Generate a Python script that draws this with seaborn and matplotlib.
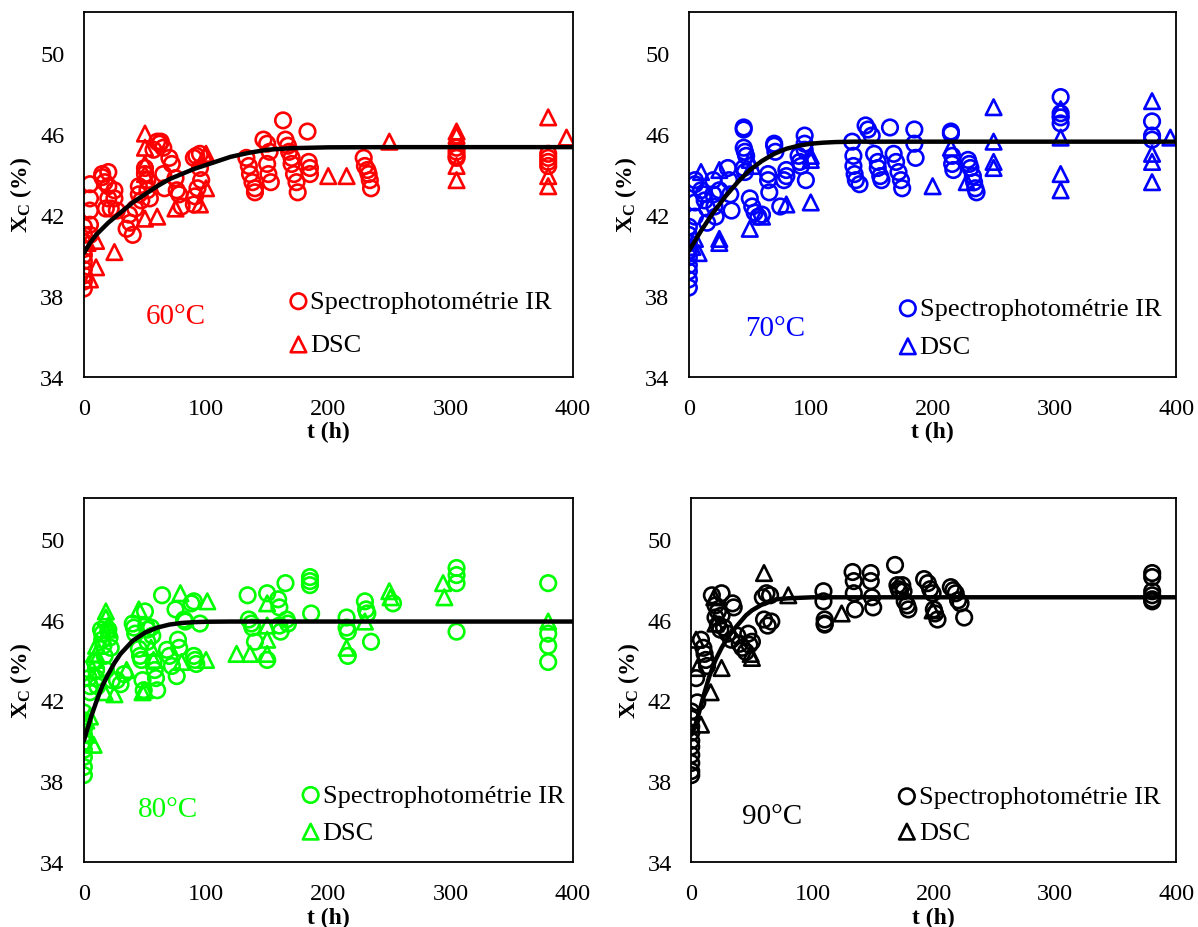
import matplotlib
matplotlib.use("Agg")
import matplotlib.pyplot as plt
import seaborn as sns

# ---- 60 °C ----
t_ir_60 = [0, 0, 0, 0, 0, 0, 0, 0, 0, 0, 5, 5, 5, 5, 5,
           15, 15, 17, 18, 20, 20, 20, 22, 25, 25, 27,
           35, 37, 38, 40, 42, 45, 45, 47, 50, 50, 52, 52, 54,
           57, 60, 62, 63, 65, 65, 66, 70, 72, 75, 76, 78, 80,
           90, 92, 95, 95, 96, 93, 91, 90,
           133, 135, 136, 138, 140, 140,
           147, 150, 152, 150, 151, 153,
           163, 165, 167, 168, 170, 170, 172, 174, 175,
           183, 184, 185, 185,
           229, 230, 232, 233, 234, 235,
           305, 305, 305, 305, 380, 380, 380, 380]
x_ir_60 = [41.4, 41.0, 40.65, 40.3, 40.0, 39.7, 39.3, 39.0, 38.7, 38.35, 43.5, 42.8, 42.2, 41.5, 41.0,
           44.0, 43.85, 43.6, 42.3, 44.1, 43.4, 42.8, 42.3, 43.2, 42.8, 42.2,
           41.3, 42.0, 41.6, 41.0, 42.3, 43.4, 43.0, 42.7, 44.3, 44.0, 43.7, 43.2, 42.8,
           45.2, 45.6, 45.5, 45.6, 45.3, 44.0, 43.3, 44.8, 44.5, 43.8, 43.2, 43.0, 42.4,
           44.8, 44.9, 45.0, 44.3, 43.7, 43.3, 42.9, 42.5,
           44.8, 44.4, 44.0, 43.6, 43.3, 43.1,
           45.7, 45.5, 45.1, 44.5, 44.0, 43.6,
           46.65, 45.7, 45.4, 45.1, 44.8, 44.5, 44.0, 43.6, 43.1,
           46.1, 44.6, 44.3, 44.0,
           44.8, 44.4, 44.2, 44.0, 43.7, 43.3,
           45.3, 45.1, 44.9, 44.8, 45.0, 44.8, 44.6, 44.4]
t_dsc_60 = [3, 5, 10, 10, 25, 50, 50, 50, 50, 50, 60, 75, 95, 99, 100, 100,
            200, 215, 250, 305, 305, 305, 305, 380, 380, 380, 395]
x_dsc_60 = [40.6, 38.8, 39.4, 40.7, 40.15, 46.0, 45.3, 44.5, 44.0, 41.8, 41.9, 42.3, 42.5, 44.9, 45.0, 43.3,
            43.9, 43.9, 45.6, 46.1, 45.9, 44.4, 43.7, 46.8, 43.9, 43.4, 45.8]
t_fit_60 = [0, 5, 10, 20, 30, 40, 50, 60, 70, 80, 90, 100, 110, 120, 135, 150, 170, 200, 250, 300, 400]
x_fit_60 = [40.1, 40.6, 41.0, 41.6, 42.1, 42.6, 43.0, 43.4, 43.75, 44.0, 44.25, 44.45, 44.65, 44.85,
            45.05, 45.2, 45.28, 45.32, 45.33, 45.33, 45.33]

# ---- 70 °C ----
t_ir_70 = [0, 0, 0, 0, 0, 0, 0, 0, 0, 5, 5, 5, 5,
           10, 12, 13, 15, 15, 20, 20, 21, 22, 25,
           32, 33, 34, 35, 45, 45, 45, 46, 47, 45, 46,
           50, 52, 54, 57, 60, 65, 65, 66, 70, 70, 71,
           75, 78, 80, 80, 90, 91, 92, 95, 95, 95, 96,
           134, 135, 135, 136, 137,
           145, 147, 150, 152, 155, 155, 157, 158, 140,
           165, 168, 170, 172, 174, 175, 185, 185, 186,
           215, 215, 216, 216, 217,
           229, 230, 231, 233, 234, 235, 236,
           305, 305, 305, 305, 380, 380, 380]
x_ir_70 = [41.4, 41.0, 40.6, 40.2, 39.9, 39.5, 39.2, 38.8, 38.4, 43.7, 43.5, 42.6, 41.9,
           43.2, 43.0, 42.7, 42.3, 41.6, 43.7, 43.0, 42.4, 41.9, 43.2,
           44.3, 43.7, 43.0, 42.2, 46.3, 46.2, 45.3, 45.1, 44.9, 44.3, 44.1,
           42.8, 42.4, 42.1, 41.9, 42.0, 44.0, 43.7, 43.1, 45.5, 45.4, 45.1,
           42.4, 43.7, 44.2, 43.9, 44.9, 44.6, 44.4, 45.9, 45.5, 45.2, 43.7,
           45.6, 44.9, 44.4, 44.0, 43.7,
           46.4, 46.2, 45.9, 45.0, 44.6, 44.3, 43.9, 43.7, 43.5,
           46.3, 45.0, 44.6, 44.1, 43.7, 43.3, 46.2, 45.5, 44.8,
           46.1, 46.0, 44.9, 44.5, 44.2,
           44.7, 44.5, 44.3, 43.9, 43.6, 43.3, 43.1,
           47.8, 47.0, 46.8, 46.5, 46.6, 45.9, 45.7]
t_dsc_70 = [3, 5, 8, 10, 25, 25, 25, 50, 50, 52, 60, 80, 100, 100, 100,
            200, 215, 228, 250, 250, 250, 250, 305, 305, 305, 305, 380, 380, 380, 380, 395]
x_dsc_70 = [40.4, 40.8, 40.1, 44.1, 40.8, 40.6, 44.2, 41.3, 44.7, 44.4, 41.9, 42.5, 42.6, 44.9, 44.7,
            43.4, 45.3, 43.6, 47.3, 45.6, 44.6, 44.3, 47.2, 45.8, 44.0, 43.2, 47.6, 45.0, 44.6, 43.6, 45.8]
t_fit_70 = [0, 5, 10, 20, 30, 40, 50, 60, 70, 80, 90, 100, 110, 120, 135, 150, 175, 200, 250, 300, 400]
x_fit_70 = [40.2, 40.7, 41.2, 42.1, 42.9, 43.6, 44.2, 44.65, 45.0, 45.25, 45.4, 45.5, 45.55, 45.58,
            45.6, 45.6, 45.6, 45.6, 45.6, 45.6, 45.6]

# ---- 80 °C ----
t_ir_80 = [0, 0, 0, 0, 0, 0, 0, 0, 0, 3, 4, 5, 5,
           9, 10, 10, 11, 14, 15, 15, 16, 17, 18, 20, 21, 22, 23,
           27, 30, 33, 40, 41, 42,
           45, 46, 47, 48, 49, 50, 51, 52, 52,
           55, 56, 57, 58, 59, 60, 64,
           68, 70, 72, 75, 76, 77, 78, 82, 83,
           90, 91, 92, 95, 90, 88,
           134, 135, 137, 138, 140, 150, 150, 159, 160, 160, 161, 165, 166, 167,
           185, 185, 185, 186,
           215, 215, 216, 216, 230, 231, 232, 235, 253,
           305, 305, 305, 305, 380, 380, 380, 380]
x_ir_80 = [41.4, 41.0, 40.6, 40.3, 39.9, 39.55, 39.2, 38.7, 38.3, 43.55, 43.1, 42.7, 42.4,
           43.9, 43.5, 43.1, 42.7, 45.5, 45.3, 45.0, 44.7, 44.2, 43.5, 45.5, 45.1, 44.6, 43.0,
           43.0, 42.8, 43.3, 45.8, 45.6, 45.3,
           44.55, 44.2, 44.0, 43.0, 42.5, 46.4, 45.7, 45.5, 44.9,
           45.6, 45.2, 43.9, 43.5, 43.1, 42.5, 47.2,
           44.5, 44.2, 43.7, 46.5, 43.2, 45.0, 44.6, 46.0, 45.9,
           44.2, 44.0, 43.8, 45.8, 46.9, 46.8,
           47.2, 46.0, 45.8, 45.6, 44.9, 47.3, 44.0, 47.0, 46.6, 45.7, 45.4, 47.8, 46.0, 45.8,
           48.1, 47.9, 47.7, 46.3,
           46.1, 45.6, 45.4, 44.2, 46.9, 46.5, 46.3, 44.9, 46.8,
           48.55, 48.2, 47.8, 45.4, 47.8, 45.3, 44.7, 43.9]
t_dsc_80 = [2, 3, 5, 8, 10, 10, 10, 17, 18, 18, 20, 20, 25, 35, 45, 48, 50, 55, 57,
            79, 80, 101, 100, 125, 136, 150, 150, 150, 150,
            215, 230, 250, 251, 294, 295, 380]
x_dsc_80 = [41.0, 40.3, 41.2, 39.8, 44.7, 44.3, 44.0, 42.4, 46.4, 46.1, 45.7, 45.5, 42.3, 43.5, 46.5,
            42.4, 42.5, 44.6, 44.0,
            47.3, 43.9, 46.9, 44.0, 44.3, 44.3, 46.8, 45.7, 45.0, 44.3,
            44.6, 45.9, 47.4, 47.1, 47.8, 47.1, 45.9]
t_fit_80 = [0, 3, 6, 10, 15, 20, 25, 30, 40, 50, 60, 70, 80, 90, 100, 120, 150, 200, 300, 400]
x_fit_80 = [40.0, 40.6, 41.2, 41.9, 42.7, 43.3, 43.85, 44.3, 44.95, 45.35, 45.6, 45.75, 45.83, 45.87,
            45.89, 45.9, 45.9, 45.9, 45.9, 45.9]

# ---- 90 °C ----
t_ir_90 = [0, 0, 0, 0, 0, 0, 0, 0, 0, 0, 4, 5,
           8, 10, 11, 12, 13, 17, 20, 22, 25, 25, 20, 22, 24, 27,
           34, 35, 30, 33, 38, 40, 42, 45, 48, 47, 50,
           59, 62, 65, 60, 63, 66,
           109, 109, 110, 110, 110,
           133, 134, 134, 135, 148, 148, 149, 150,
           168, 170, 171, 172, 174, 175, 176, 178, 179,
           192, 195, 197, 199, 200, 201, 203,
           214, 216, 218, 220, 222, 225,
           380, 380, 380, 380, 380, 380]
x_ir_90 = [41.45, 41.1, 40.7, 40.4, 40.0, 39.7, 39.3, 38.9, 38.5, 38.3, 43.1, 41.9,
           45.0, 44.6, 44.3, 44.0, 43.7, 47.2, 46.7, 46.4, 47.3, 46.2, 46.1, 45.75, 45.5, 45.6,
           46.8, 46.6, 45.3, 45.0, 45.2, 44.8, 44.6, 44.4, 44.75, 45.3, 44.9,
           47.1, 47.3, 47.2, 46.0, 45.7, 45.9,
           47.4, 46.9, 46.0, 45.8, 45.75,
           48.35, 47.9, 47.3, 46.5, 48.3, 47.9, 47.1, 46.6,
           48.7, 47.7, 47.5, 47.4, 47.7, 47.4, 46.9, 46.7, 46.5,
           48.0, 47.8, 47.5, 47.3, 46.5, 46.3, 46.0,
           47.6, 47.45, 47.3, 46.95, 46.8, 46.1,
           48.3, 48.1, 47.4, 47.2, 47.0, 46.9]
t_dsc_90 = [4, 5, 8, 16, 19, 20, 25, 49, 50, 60, 80, 124, 199]
x_dsc_90 = [45.0, 43.6, 40.8, 42.4, 47.1, 45.8, 43.6, 44.3, 44.1, 48.3, 47.2, 46.3, 46.45]
t_fit_90 = [0, 3, 6, 10, 15, 20, 25, 30, 35, 40, 45, 50, 60, 70, 80, 100, 150, 200, 300, 400]
x_fit_90 = [40.3, 40.7, 41.3, 42.2, 43.2, 44.0, 44.6, 45.1, 45.5, 45.85, 46.2, 46.45, 46.8, 47.0,
            47.05, 47.1, 47.1, 47.1, 47.1, 47.1]

panels = [
    ("60°C", "#ff0000", t_ir_60, x_ir_60, t_dsc_60, x_dsc_60, t_fit_60, x_fit_60),
    ("70°C", "#0000ff", t_ir_70, x_ir_70, t_dsc_70, x_dsc_70, t_fit_70, x_fit_70),
    ("80°C", "#00ff00", t_ir_80, x_ir_80, t_dsc_80, x_dsc_80, t_fit_80, x_fit_80),
    ("90°C", "#000000", t_ir_90, x_ir_90, t_dsc_90, x_dsc_90, t_fit_90, x_fit_90),
]

sns.set_style("white")
plt.rcParams["font.family"] = ["Liberation Serif", "DejaVu Serif"]
plt.rcParams["mathtext.fontset"] = "custom"
plt.rcParams["mathtext.rm"] = "Liberation Serif"
plt.rcParams["mathtext.bf"] = "Liberation Serif:bold"
plt.rcParams["mathtext.it"] = "Liberation Serif:italic"
plt.rcParams["text.color"] = "black"
plt.rcParams["axes.labelcolor"] = "black"

fig = plt.figure(figsize=(11.98, 9.28), dpi=100)
# axes boxes, label spots (t, X) and legend anchors per panel
boxes = [
    [0.070, 0.593, 0.408, 0.393],
    [0.575, 0.593, 0.407, 0.393],
    [0.070, 0.070, 0.408, 0.392],
    [0.577, 0.070, 0.405, 0.392],
]
label_pos = [(51, 37.0), (46, 36.4), (44, 36.6), (42, 36.3)]
legend_anchor = [(0.385, 0.005), (0.395, 0.0), (0.41, 0.0), (0.39, 0.0)]
legend_space = [0.75, 0.55, 0.5, 0.45]

for i, (temp, col, t_ir, x_ir, t_dsc, x_dsc, t_fit, x_fit) in enumerate(panels):
    ax = fig.add_axes(boxes[i])
    sns.lineplot(x=t_fit, y=x_fit, color="black", linewidth=3.2, ax=ax, zorder=3)
    sns.scatterplot(x=t_ir, y=x_ir, marker="o", s=125, facecolor="none",
                    edgecolor=col, linewidth=1.9, label="Spectrophotométrie IR",
                    ax=ax, zorder=2)
    sns.scatterplot(x=t_dsc, y=x_dsc, marker="^", s=125, facecolor="none",
                    edgecolor=col, linewidth=1.9, label="DSC", ax=ax, zorder=2)
    ax.set_xlim(0, 400)
    ax.set_ylim(34, 52)
    ax.set_xticks([0, 100, 200, 300, 400])
    ax.set_yticks([34, 38, 42, 46, 50])
    ax.tick_params(direction="inout", length=10, width=1.3, labelsize=17.5,
                   colors="black")
    ax.tick_params(axis="y", pad=9)
    ax.tick_params(axis="x", pad=10)
    for sp in ax.spines.values():
        sp.set_color("black")
        sp.set_linewidth(1.3)
    ax.set_xlabel("t (h)", fontsize=17, fontweight="bold", labelpad=2)
    ax.set_ylabel(r"$\mathbf{X_C}$ (%)", fontsize=17, fontweight="bold", labelpad=4)
    ax.text(label_pos[i][0], label_pos[i][1], temp, color=col, fontsize=21, va="center")
    leg = ax.legend(loc="lower left", bbox_to_anchor=legend_anchor[i], frameon=False,
                    fontsize=19, handlelength=0.6, handletextpad=0.15,
                    labelspacing=legend_space[i], borderpad=0.2)
    for txt in leg.get_texts():
        txt.set_color("black")

fig.savefig("out.png", dpi=100)
